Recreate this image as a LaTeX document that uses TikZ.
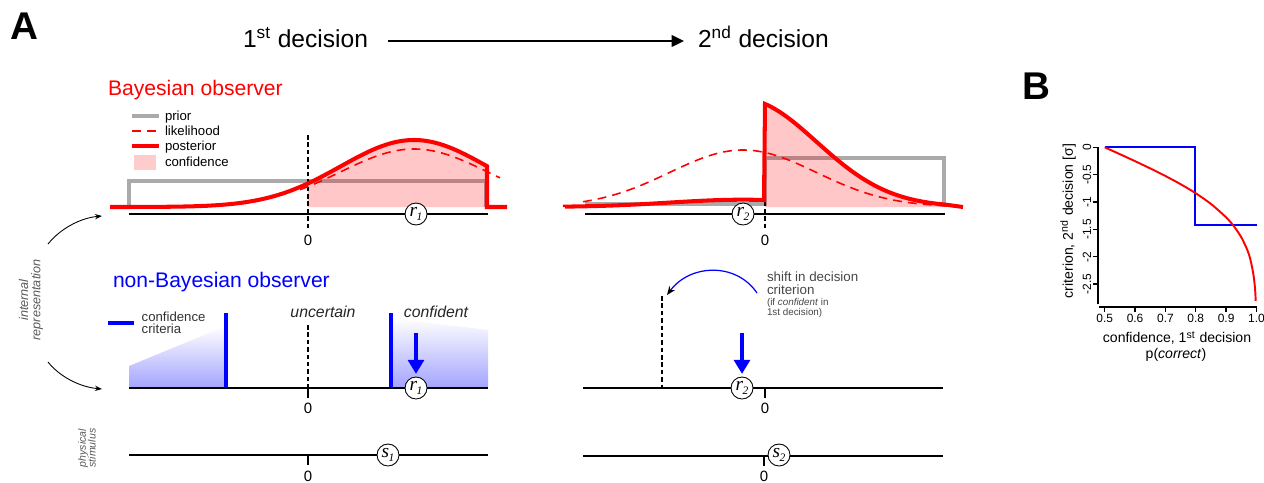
\documentclass[tikz,border=0pt]{standalone}
\usepackage{fontspec}
\setmainfont{Liberation Sans}
\newfontfamily\rfont{Liberation Serif}
\usetikzlibrary{arrows.meta}
\newcommand{\myfs}[2]{\fontsize{#1}{#2}\selectfont}
\definecolor{priorgray}{RGB}{170,170,170}
\definecolor{pinkfill}{RGB}{255,204,204}
\definecolor{txtgray}{RGB}{70,70,70}
\definecolor{obsblue}{RGB}{0,0,255}
\tikzset{
  lbl/.style={inner sep=0pt, outer sep=0pt},
  rnode/.style={circle, draw, line width=0.5pt, fill=white, minimum size=0.44cm, inner sep=0pt, font=\rfont\itshape\myfs{11}{11}},
  axisline/.style={line width=1.1pt},
  midaxis/.style={line width=1.4pt},
  zerodash/.style={line width=1.1pt, dash pattern=on 2.6pt off 1.6pt},
  posterior/.style={red, line width=2.3pt},
  likelihood/.style={red, line width=0.9pt, dash pattern=on 5pt off 3.5pt},
  prior/.style={priorgray, line width=1.8pt},
  crit/.style={obsblue, line width=1.8pt},
  bluearrow/.style={obsblue, line width=2.4pt, -{Triangle[length=8pt,width=9pt]}, shorten >=1.5pt},
  thinarrow/.style={line width=0.5pt, -{Stealth[length=4pt,width=3pt]}},
  baxis/.style={line width=0.8pt},
  btick/.style={lbl, font=\myfs{6.8}{6.8}},
  fadeblue/.style={top color=white, middle color=obsblue!6, bottom color=obsblue!36},
}
\begin{document}
\begin{tikzpicture}[x=0.02cm,y=-0.02cm]
\path[use as bounding box] (0,0) rectangle (1264,483);

% ---------- titles ----------
\node[lbl, font=\bfseries\myfs{22}{22}] (A) at (24,26) {A};
\node[lbl, anchor=base west, font=\myfs{14}{14}] (d1) at (243,48) {1\textsuperscript{st} decision};
\node[lbl, anchor=base west, font=\myfs{14}{14}] (d2) at (698,48) {2\textsuperscript{nd} decision};
\coordinate (da) at (388,41);
\coordinate (db) at (684,41);
\draw[line width=1.2pt, -{Triangle[length=7pt,width=6.5pt]}] (da) -- (db);

% ---------- Bayesian observer ----------
\node[lbl, anchor=base west, text=red, font=\myfs{12}{12}] (bayes) at (108,95) {Bayesian observer};
\coordinate (lg1a) at (132,116); \coordinate (lg1b) at (159,116);
\coordinate (lg2a) at (132,131); \coordinate (lg2b) at (159,131);
\coordinate (lg3a) at (132,146); \coordinate (lg3b) at (159,146);
\draw[prior] (lg1a) -- (lg1b);
\draw[likelihood] (lg2a) -- (lg2b);
\draw[posterior] (lg3a) -- (lg3b);
\fill[pinkfill] (134,155) rectangle (156,170);
\node[lbl, anchor=base west, font=\myfs{7.5}{7.5}] (tprior) at (165,120.5) {prior};
\node[lbl, anchor=base west, font=\myfs{7.5}{7.5}] (tlik) at (165,135) {likelihood};
\node[lbl, anchor=base west, font=\myfs{7.5}{7.5}] (tpost) at (165,150.5) {posterior};
\node[lbl, anchor=base west, font=\myfs{7.5}{7.5}] (tconf) at (165,166) {confidence};

% left top panel
\draw[prior] (129,207) -- (129,181) -- (486,181) -- (486,207);
\fill[red, opacity=0.22] (308,207) -- plot[domain=308:487,samples=60] (\x,{207-67*exp(-0.5*((\x-414)/73.35)^2)}) -- (487,207) -- cycle;
\draw[zerodash] (308,135) -- (308,228);
\draw[likelihood] plot[domain=300:500,samples=60] (\x,{207-58*exp(-0.5*((\x-414)/73.35)^2)});
\draw[posterior] (110,207) -- (129,207) -- plot[domain=129:487,samples=90] (\x,{207-67*exp(-0.5*((\x-414)/73.35)^2)}) -- (487,207) -- (507,207);
\coordinate (ax1a) at (129,214); \coordinate (ax1b) at (488,214);
\draw[axisline] (ax1a) -- (ax1b);
\node[rnode] (r1top) at (416,214) {r\kern-0.3pt\raisebox{-2.2pt}{\myfs{6.5}{6.5}1}};
\node[lbl, font=\myfs{8.5}{8.5}] (z1) at (308,240) {0};

% right top panel
\draw[prior] (585,204) -- (765,204) -- (765,158) -- (944,158) -- (944,207);
\fill[red, opacity=0.22] (765,207) -- plot[domain=765:945,samples=60] (\x,{207-107.7*exp(-0.5*((\x-743)/73.35)^2)}) -- (945,207) -- cycle;
\draw[zerodash] (765,135) -- (765,228);
\draw[likelihood] plot[domain=583:948,samples=80] (\x,{207-57*exp(-0.5*((\x-743)/73.35)^2)});
\draw[posterior] (565,207) -- plot[domain=565:764,samples=50] (\x,{207-7.3*exp(-0.5*((\x-743)/73.35)^2)}) -- plot[domain=765:945,samples=70] (\x,{207-107.7*exp(-0.5*((\x-743)/73.35)^2)}) -- (963,207);
\coordinate (ax2a) at (585,214); \coordinate (ax2b) at (945,214);
\draw[axisline] (ax2a) -- (ax2b);
\node[rnode] (r2top) at (743,214) {r\kern-0.3pt\raisebox{-2.2pt}{\myfs{6.5}{6.5}2}};
\node[lbl, font=\myfs{8.5}{8.5}] (z2) at (765,240) {0};

% ---------- side labels and arrows ----------
\node[lbl, rotate=90, align=center, text=black!65, font=\itshape\myfs{7.2}{7}] (intrep) at (31,300) {internal\\representation};
\coordinate (ia1) at (48,244); \coordinate (ia2) at (102,216);
\coordinate (ib1) at (48,362); \coordinate (ib2) at (102,389);
\draw[thinarrow] (ia1) .. controls (60,229) and (80,218) .. (ia2);
\draw[thinarrow] (ib1) .. controls (60,377) and (80,387) .. (ib2);
\node[lbl, rotate=90, align=center, text=black!65, font=\itshape\myfs{6}{5.6}] (phys) at (87,448) {physical\\stimulus};

% ---------- non-Bayesian observer ----------
\node[lbl, anchor=base west, text=obsblue, font=\myfs{12}{12}] (nonbayes) at (113,287) {non-Bayesian observer};
\coordinate (cl1) at (108,323); \coordinate (cl2) at (134,323);
\draw[crit, line width=2.3pt] (cl1) -- (cl2);
\node[lbl, anchor=base west, text=black!80, font=\myfs{7.5}{7.5}] (tcc1) at (141.7,321.7) {confidence};
\node[lbl, anchor=base west, text=black!80, font=\myfs{7.5}{7.5}] (tcc2) at (141.7,333.3) {criteria};

\shade[fadeblue] (129,388) -- (129,366) -- (226,326) -- (226,388) -- cycle;
\shade[fadeblue] (391,388) -- (391,318) -- (488,330) -- (488,388) -- cycle;
\coordinate (c1a) at (226,313); \coordinate (c1b) at (226,388);
\coordinate (c2a) at (391,313); \coordinate (c2b) at (391,388);
\draw[crit] (c1a) -- (c1b);
\draw[crit] (c2a) -- (c2b);
\draw[zerodash] (308,325) -- (308,388);
\draw[line width=1.1pt] (308,388) -- (308,398);
\coordinate (ax3a) at (129,388); \coordinate (ax3b) at (488,388);
\draw[midaxis] (ax3a) -- (ax3b);
\node[lbl, anchor=base, text=black!85, font=\itshape\myfs{9}{9}] (unc) at (323,317.3) {uncertain};
\node[lbl, anchor=base, text=black!85, font=\itshape\myfs{9}{9}] (confd) at (436,317.3) {confident};
\node[rnode] (r1mid) at (416,388) {r\kern-0.3pt\raisebox{-2.2pt}{\myfs{6.5}{6.5}1}};
\coordinate (ba1) at (416,333);
\draw[bluearrow] (ba1) -- (r1mid.north);
\node[lbl, font=\myfs{8.5}{8.5}] (z3) at (308,408) {0};

% right middle
\coordinate (ax4a) at (583,388); \coordinate (ax4b) at (943,388);
\draw[midaxis] (ax4a) -- (ax4b);
\draw[line width=1.1pt] (765,388) -- (765,398);
\draw[zerodash] (662,296) -- (662,388);
\node[rnode] (r2mid) at (742,388) {r\kern-0.3pt\raisebox{-2.2pt}{\myfs{6.5}{6.5}2}};
\coordinate (ba2) at (742,333);
\draw[bluearrow] (ba2) -- (r2mid.north);
\node[lbl, font=\myfs{8.5}{8.5}] (z4) at (765,408) {0};
\coordinate (sh1) at (757,293); \coordinate (sh2) at (667,295);
\draw[obsblue, line width=0.7pt, -{Stealth[black,length=5pt,width=4pt]}] (sh1) .. controls (736,262) and (690,264) .. (sh2);
\node[lbl, anchor=base west, text=txtgray, font=\myfs{7.6}{7.6}] (sht1) at (767,281.7) {shift in decision};
\node[lbl, anchor=base west, text=txtgray, font=\myfs{7.6}{7.6}] (sht2) at (767,294.3) {criterion};
\node[lbl, anchor=base west, text=txtgray, font=\myfs{5.6}{5.6}] (sht3) at (767,305) {(if \textit{confident} in};
\node[lbl, anchor=base west, text=txtgray, font=\myfs{5.6}{5.6}] (sht4) at (767,315.7) {1st decision)};

% ---------- physical stimulus ----------
\coordinate (ax5a) at (129,455); \coordinate (ax5b) at (488,455);
\draw[midaxis] (ax5a) -- (ax5b);
\draw[line width=1.1pt] (308,455) -- (308,465);
\node[lbl, font=\myfs{8.5}{8.5}] (z5) at (308,476) {0};
\node[rnode] (s1) at (388,455) {s\kern-0.3pt\raisebox{-2.2pt}{\myfs{6.5}{6.5}1}};
\coordinate (ax6a) at (583,456); \coordinate (ax6b) at (943,456);
\draw[midaxis] (ax6a) -- (ax6b);
\draw[line width=1.1pt] (764,456) -- (764,466);
\node[lbl, font=\myfs{8.5}{8.5}] (z6) at (764,476) {0};
\node[rnode] (s2) at (779,455) {s\kern-0.3pt\raisebox{-2.2pt}{\myfs{6.5}{6.5}2}};

% ---------- panel B ----------
\node[lbl, font=\bfseries\myfs{22}{22}] (B) at (1036,86) {B};
\coordinate (byt) at (1098,147.3); \coordinate (byb) at (1098,304);
\draw[baxis] (byt) -- (byb);
\foreach \v/\t [count=\i] in {0/0, 0.5/-0.5, 1/-1, 1.5/-1.5, 2/-2, 2.5/-2.5} {
  \draw[baxis] (1093,{147.3+\v*54.7}) -- (1098,{147.3+\v*54.7});
  \node[btick, rotate=90] (yl\i) at (1087,{147.3+\v*54.7}) {\t};
}
\coordinate (bxl) at (1099,307); \coordinate (bxr) at (1257,307);
\draw[baxis] (bxl) -- (bxr);
\foreach \k/\t [count=\i] in {0/0.5, 1/0.6, 2/0.7, 3/0.8, 4/0.9, 5/1.0} {
  \draw[baxis] ({1104.7+\k*30.36},307) -- ({1104.7+\k*30.36},312);
  \node[btick] (xl\i) at ({1104.7+\k*30.36},318.5) {\t};
}
\node[lbl, font=\myfs{8}{8}] (bxlab1) at (1177,338) {confidence, 1\textsuperscript{st} decision};
\node[lbl, font=\myfs{8}{8}] (bxlab2) at (1176,355) {p(\textit{correct})};
\node[lbl, rotate=90, font=\myfs{8}{8}] (bylab) at (1068,221) {criterion, 2\textsuperscript{nd} decision [σ]};
\draw[obsblue, line width=1.2pt] (1104.7,147.3) -- (1195,147.3) -- (1195,225) -- (1256.5,225);
\draw[red, line width=1.1pt] plot[smooth] coordinates {(1104.7,147.3) (1119.9,154.2) (1135.1,161.2) (1150.2,168.4) (1165.4,176.0) (1180.6,184.2) (1195.8,193.3) (1211.0,204.0) (1226.1,217.4) (1233.7,226.0) (1241.3,237.3) (1247.4,250.2) (1250.4,259.6) (1253.4,274.5) (1255.0,288.2) (1255.7,300.8)};
\end{tikzpicture}
\end{document}
